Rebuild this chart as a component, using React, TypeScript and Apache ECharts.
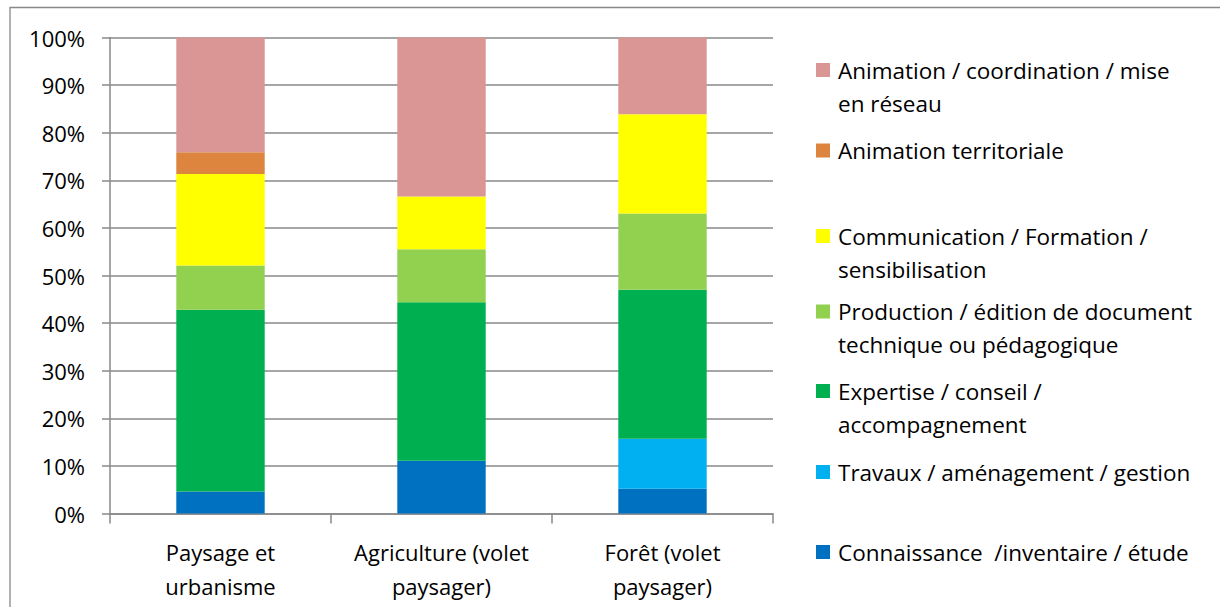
import { useEffect, useRef } from "react";
import * as echarts from "echarts";

// Categories on the x axis (line breaks as shown under each bar)
const categories = [
  "Paysage et\nurbanisme",
  "Agriculture (volet\npaysager)",
  "Forêt (volet\npaysager)",
];

// Share of each action type per domain, in percent (stacked bottom to top)
const connaissance = [4.6, 11.1, 5.2];
const travaux = [0, 0, 10.5];
const expertise = [38.2, 33.3, 31.3];
const production = [9.3, 11.1, 16.0];
const communication = [19.2, 11.1, 20.9];
const animationTerritoriale = [4.6, 0, 0];
const animationCoordination = [24.1, 33.4, 16.1];

// Series labels (wrapped as in the legend)
const seriesNames = [
  "Connaissance  /inventaire / étude",
  "Travaux / aménagement / gestion",
  "Expertise / conseil /\naccompagnement",
  "Production / édition de document\ntechnique ou pédagogique",
  "Communication / Formation /\nsensibilisation",
  "Animation territoriale",
  "Animation / coordination / mise\nen réseau",
];
const seriesData = [
  connaissance,
  travaux,
  expertise,
  production,
  communication,
  animationTerritoriale,
  animationCoordination,
];
const seriesColors = [
  "#0070C0",
  "#00B0F0",
  "#00B050",
  "#92D050",
  "#FFFF00",
  "#DD843E",
  "#D99694",
];

// Vertical centre of each legend marker, listed top to bottom
const legendCenters = [70, 150.5, 236, 311.5, 391, 472, 552];

const FONT = "'Open Sans', 'Liberation Sans', sans-serif";
const AXIS_GRAY = "#888888";

export default function App() {
  const ref = useRef<HTMLDivElement>(null);

  useEffect(() => {
    if (!ref.current) return;
    const chart = echarts.init(ref.current, undefined, { renderer: "svg" });

    const lineH = 33;
    const legendOrder = seriesNames.slice().reverse();
    const legends = legendOrder.map((name, i) => {
      const twoLines = name.includes("\n");
      const center = legendCenters[i];
      // two-line entries get an empty leading line so the marker sits on the first line
      const top = twoLines ? center - lineH * 1.5 : center - lineH / 2;
      return {
        show: true,
        data: [name],
        orient: "vertical",
        left: 816,
        top,
        padding: 0,
        icon: "rect",
        itemWidth: 14,
        itemHeight: 14,
        selectedMode: false,
        formatter: (n: string) => (n.includes("\n") ? "\n" + n : n),
        textStyle: {
          fontFamily: FONT,
          fontSize: 22.5,
          color: "#000",
          lineHeight: lineH,
          padding: [0, 0, 0, 3],
        },
      };
    });

    chart.setOption({
      animation: false,
      backgroundColor: "#ffffff",
      textStyle: { fontFamily: FONT },
      graphic: [
        {
          type: "rect",
          shape: { x: 10, y: 7.5, width: 1400, height: 900 },
          style: { fill: "none", stroke: AXIS_GRAY, lineWidth: 1.3 },
          silent: true,
        },
      ],
      legend: legends,
      grid: { left: 110, right: 447, top: 37.5, bottom: 93.5 },
      xAxis: {
        type: "category",
        data: categories,
        axisLine: { lineStyle: { color: AXIS_GRAY, width: 1.5 } },
        axisTick: { show: true, length: 10, lineStyle: { color: AXIS_GRAY, width: 1.5 } },
        axisLabel: {
          fontFamily: FONT,
          fontSize: 22,
          color: "#000",
          lineHeight: 34,
          margin: 21,
          interval: 0,
        },
      },
      yAxis: {
        type: "value",
        min: 0,
        max: 100,
        interval: 10,
        axisLine: { show: true, lineStyle: { color: AXIS_GRAY, width: 1.5 } },
        axisTick: { show: true, length: 8, lineStyle: { color: AXIS_GRAY, width: 1.5 } },
        splitLine: { lineStyle: { color: AXIS_GRAY, width: 1.5 } },
        axisLabel: {
          fontFamily: FONT,
          fontSize: 22,
          color: "#000",
          margin: 25,
          formatter: "{value}%",
        },
      },
      series: seriesNames.map((name, i) => ({
        name,
        type: "bar",
        stack: "total",
        barCategoryGap: "60%",
        data: seriesData[i],
        itemStyle: { color: seriesColors[i] },
        emphasis: { disabled: true },
      })),
    });

    return () => chart.dispose();
  }, []);

  return (
    <div
      ref={ref}
      style={{ position: "absolute", left: 0, top: 0, width: 1220, height: 607 }}
    />
  );
}
